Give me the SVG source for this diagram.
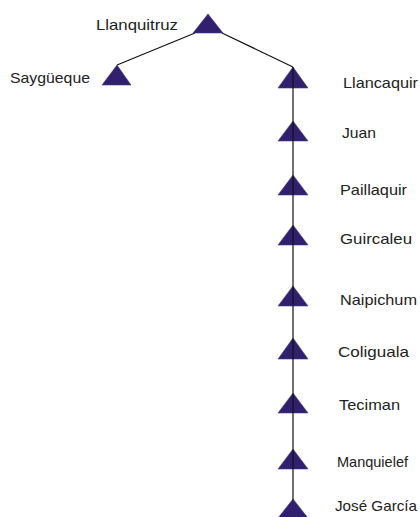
<svg xmlns="http://www.w3.org/2000/svg" width="420" height="517" viewBox="0 0 420 517">
<style>
.tri{fill:#30206e;stroke:#4a3c84;stroke-width:0.6}
.lbl{font-family:"Liberation Sans",Arial,sans-serif;font-size:15px;fill:#222}
.ln{stroke:#111;stroke-width:1.2;fill:none}
</style>
<rect width="420" height="517" fill="#fff"/>
<g id="connectors">
<line class="ln" x1="195" y1="33" x2="117" y2="65"/>
<line class="ln" x1="222" y1="33" x2="293" y2="67"/>
</g>
<g id="n-llanquitruz"><polygon class="tri" points="208,14 223,33 193,33"/><text class="lbl" x="96" y="30" textLength="82" lengthAdjust="spacingAndGlyphs">Llanquitruz</text></g>
<g id="n-sayg"><polygon class="tri" points="117,65 131,85 102,85"/><text class="lbl" x="10" y="83" textLength="80" lengthAdjust="spacingAndGlyphs">Saygüeque</text></g>
<g id="n-llancaquir"><polygon class="tri" points="293,67 308,88 278,88"/><text class="lbl" x="343" y="88" textLength="75" lengthAdjust="spacingAndGlyphs">Llancaquir</text></g>
<g id="n-juan"><polygon class="tri" points="293,121 308,141 278,141"/><text class="lbl" x="342" y="138" textLength="34" lengthAdjust="spacingAndGlyphs">Juan</text></g>
<g id="n-paillaquir"><polygon class="tri" points="293,175 308,195 278,195"/><text class="lbl" x="340" y="195" textLength="67" lengthAdjust="spacingAndGlyphs">Paillaquir</text></g>
<g id="n-guircaleu"><polygon class="tri" points="293,225 308,245 278,245"/><text class="lbl" x="340" y="244" textLength="72" lengthAdjust="spacingAndGlyphs">Guircaleu</text></g>
<g id="n-naipichum"><polygon class="tri" points="293,286 308,306 278,306"/><text class="lbl" x="340" y="305" textLength="77" lengthAdjust="spacingAndGlyphs">Naipichum</text></g>
<g id="n-coliguala"><polygon class="tri" points="293,338 308,359 278,359"/><text class="lbl" x="338" y="357" textLength="71" lengthAdjust="spacingAndGlyphs">Coliguala</text></g>
<g id="n-teciman"><polygon class="tri" points="293,393 308,413 278,413"/><text class="lbl" x="339" y="410" textLength="61" lengthAdjust="spacingAndGlyphs">Teciman</text></g>
<g id="n-manquielef"><polygon class="tri" points="293,449 308,469 278,469"/><text class="lbl" x="337" y="467" textLength="71" lengthAdjust="spacingAndGlyphs">Manquielef</text></g>
<g id="n-jose"><polygon class="tri" points="293,499 308,518 278,518"/><text class="lbl" x="335" y="511" textLength="82" lengthAdjust="spacingAndGlyphs">José García</text></g>
<g id="trunk"><line class="ln" x1="293" y1="67" x2="293" y2="500"/></g>
</svg>
